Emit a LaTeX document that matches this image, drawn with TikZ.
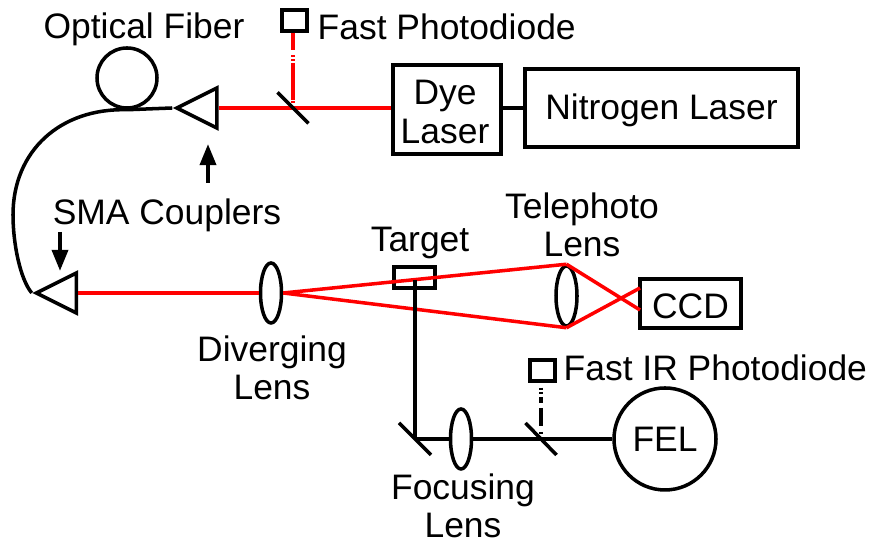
\documentclass[tikz,border=0pt]{standalone}
\usepackage{fontspec}
\setmainfont{Liberation Sans}
\usetikzlibrary{shapes.geometric,arrows.meta}
\definecolor{beamred}{RGB}{255,0,0}
\tikzset{
    box/.style={draw, line width=1pt, inner sep=0pt},
    lens/.style={draw, ellipse, line width=1pt, inner sep=0pt, minimum width=0.21cm, minimum height=0.6cm},
    coupler/.style={draw, isosceles triangle, isosceles triangle stretches, shape border rotate=180, line width=1pt, inner sep=0pt, minimum width=0.4cm, minimum height=0.4cm},
    optic/.style={line width=1pt},
    beam/.style={line width=1pt, beamred},
    sampled/.style={line width=1.15pt}
}
\begin{document}
\begin{tikzpicture}[every node/.append style={font=\fontsize{10.08}{11}\selectfont}]
    \useasboundingbox (0, 0) rectangle (8.69, 5.41);

    \node[box, minimum width=1.08cm, minimum height=0.89cm] at (4.47, 4.315) (Dye) {};
    \node[align=center] at (4.45, 4.29) (t_dye) {Dye\\Laser};
    \node[box, minimum width=2.73cm, minimum height=0.78cm, text height=8.4pt, text depth=2pt] at (6.615, 4.33) (N2) {Nitrogen Laser};
    \node[box, minimum width=1.01cm, minimum height=0.49cm, text height=8.4pt] at (6.905, 2.375) (CCD) {CCD};
    \node[box, minimum width=0.41cm, minimum height=0.21cm] at (4.145, 2.635) (Target) {};
    \node[box, minimum width=0.25cm, minimum height=0.21cm] at (2.945, 5.205) (PD) {};
    \node[box, minimum width=0.25cm, minimum height=0.21cm] at (5.425, 1.705) (IRPD) {};
    \node[draw, circle, line width=1pt, minimum size=1.02cm, inner sep=0pt] at (6.65, 1.02) (FEL) {FEL};
    \node[draw, circle, line width=1pt, minimum size=0.6cm, inner sep=0pt] at (1.27, 4.63) (Fiber) {};

    \node[coupler] at (2.045, 4.33) (C_top) {};
    \node[coupler] at (0.64, 2.48) (C_bot) {};
    \node[lens] at (2.71, 2.48) (L_div) {};
    \node[lens] at (5.665, 2.45) (L_tele) {};
    \node[lens] at (4.61, 1.02) (L_foc) {};

    \coordinate (M_top) at (2.93, 4.33);
    \coordinate (M_fold) at (4.15, 1.02);
    \coordinate (M_ir) at (5.41, 1.02);
    \coordinate (S_top) at (2.93, 4.78);
    \coordinate (S_ir) at (5.41, 1.44);
    \coordinate (T_in) at (4.15, 2.61);
    \coordinate (CCD_a) at (6.40, 2.53);
    \coordinate (CCD_b) at (6.40, 2.31);

    \node at (1.44, 5.12) (t_fiber) {Optical Fiber};
    \node[anchor=west, inner sep=0pt] at (3.17, 5.14) (t_pd) {Fast Photodiode};
    \node at (1.67, 3.26) (t_sma) {SMA Couplers};
    \node[align=center] at (5.82, 3.16) (t_tele) {Telephoto\\Lens};
    \node at (4.20, 2.98) (t_target) {Target};
    \node[align=center] at (2.72, 1.73) (t_div) {Diverging\\Lens};
    \node[align=center, inner sep=0pt] at (4.63, 0.35) (t_foc) {Focusing\\Lens};
    \node[anchor=west, inner sep=0pt] at (5.63, 1.73) (t_irpd) {Fast IR Photodiode};

    \coordinate (A_top_s) at (2.08, 3.58);
    \coordinate (A_top_e) at (2.08, 3.97);
    \coordinate (A_bot_s) at (0.60, 3.09);
    \coordinate (A_bot_e) at (0.60, 2.70);

    % red path
    \path[beam]
        (Dye.west |- M_top) edge (C_top.lower side)
        (C_bot.lower side) edge (L_div.west)
        (L_div.east) edge (L_tele.north)
        (L_div.east) edge (L_tele.south)
        (L_tele.north) edge (CCD_b)
        (L_tele.south) edge (CCD_a)
        (M_top |- PD.south) edge [sampled, dash pattern=on 4.8pt off 1.6pt on 0.4pt off 0.7pt on 0.6pt off 10pt] (S_top)
        (S_top) edge [sampled, dash pattern=on 10.5pt off 0.3pt on 0.6pt off 30pt] (M_top);

    % black path
    \path[optic]
        (Dye.east |- N2.west) edge (N2.west)
        (T_in) edge (M_fold)
        (M_fold) edge (L_foc.west)
        (L_foc.east) edge (FEL.west)
        (M_ir |- IRPD.south) edge [sampled, dash pattern=on 0pt off 1.4pt on 0.6pt off 0.6pt on 0.6pt off 10pt] (S_ir)
        (S_ir) edge [sampled, dash pattern=on 1.7pt off 1.4pt on 5.1pt off 1.7pt on 0.6pt off 30pt] (M_ir)
        (C_top.apex) edge (Fiber.south);

    \draw[optic] (Fiber.south) .. controls (0.60, 4.33) and (0.13, 3.90) .. (0.13, 3.26) .. controls (0.13, 2.98) and (0.20, 2.62) .. (C_bot.apex);
    \draw[optic] ([shift={(-0.155, 0.155)}]M_top) -- ([shift={(0.155, -0.155)}]M_top);
    \draw[optic] ([shift={(-0.16, 0.16)}]M_fold) -- ([shift={(0.16, -0.16)}]M_fold);
    \draw[optic] ([shift={(-0.155, 0.16)}]M_ir) -- ([shift={(0.155, -0.16)}]M_ir);

    \path[-{Triangle[length=6pt, width=4.5pt]}, line width=1.15pt]
        (A_top_s) edge (A_top_e)
        (A_bot_s) edge (A_bot_e);
\end{tikzpicture}
\end{document}
